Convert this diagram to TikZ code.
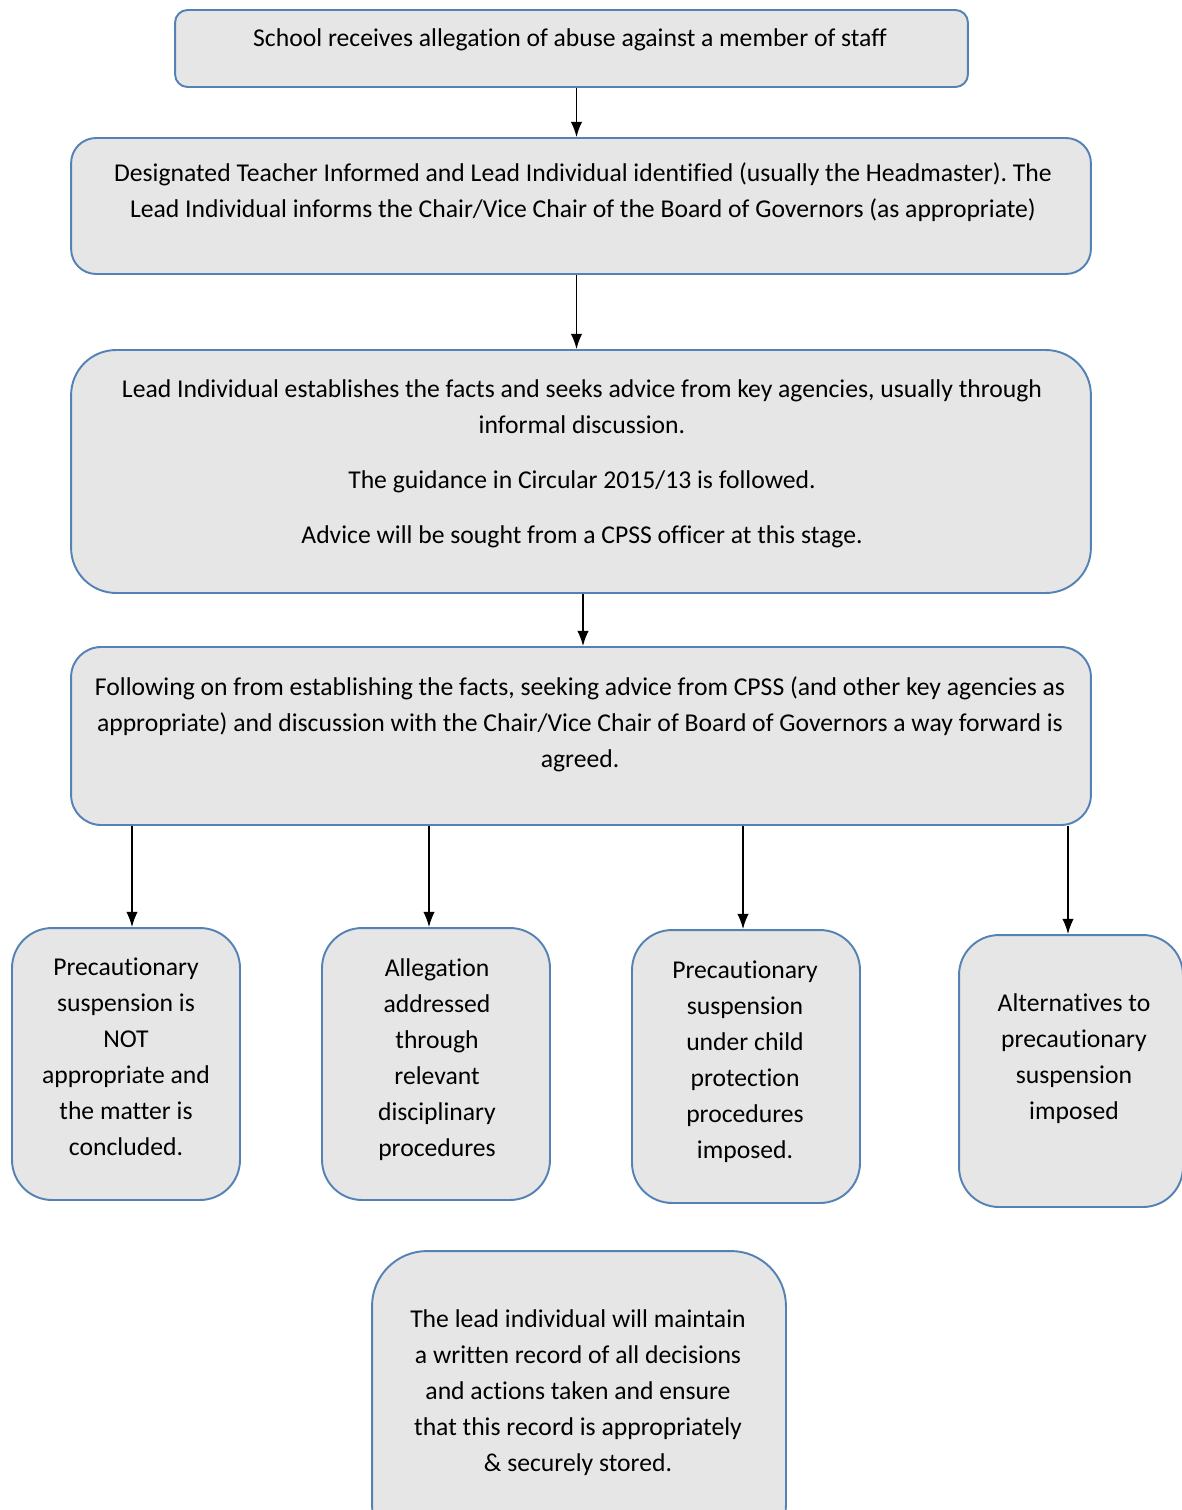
\documentclass[tikz,border=0pt]{standalone}
\usepackage{fontspec}
\setmainfont{Carlito}[Ligatures=NoCommon]
\frenchspacing
\usetikzlibrary{positioning,arrows.meta,calc}
\tikzset{>={Latex[scale=1.3]}}
\definecolor{boxblue}{RGB}{84,130,181}
\definecolor{boxgrey}{RGB}{230,230,230}

\begin{document}
\begin{tikzpicture}[x=0.02cm, y=-0.02cm,
    flowbox/.style={draw=boxblue, fill=boxgrey, line width=1.1pt, rounded corners=#1, inner sep=0pt},
    flowbox/.default=0.5cm,
    txt/.style={align=center, inner sep=0pt, font=\fontsize{14.6}{20.5}\selectfont},
    link/.style={->, line width=0.8pt}]
  \useasboundingbox (0,0) rectangle (1182,1510);
  \clip (0,0) rectangle (1182,1510);
  % boxes
  \node[flowbox=0.25cm, minimum width=15.86cm, minimum height=1.54cm] (b1) at (571.5,48.5) {};
  \node[flowbox=0.5cm, minimum width=20.4cm, minimum height=2.72cm] (b2) at (581,206) {};
  \node[flowbox=0.9cm, minimum width=20.4cm, minimum height=4.86cm] (b3) at (581,471.5) {};
  \node[flowbox=0.6cm, minimum width=20.4cm, minimum height=3.56cm] (b4) at (581,736) {};
  \node[flowbox=0.8cm, minimum width=4.56cm, minimum height=5.44cm] (ba) at (126,1064) {};
  \node[flowbox=0.8cm, minimum width=4.56cm, minimum height=5.44cm] (bb) at (436,1064) {};
  \node[flowbox=0.8cm, minimum width=4.56cm, minimum height=5.46cm] (bc) at (746,1066.5) {};
  \node[flowbox=0.8cm, minimum width=4.48cm, minimum height=5.44cm] (bd) at (1071,1071) {};
  \node[flowbox=1.1cm, minimum width=8.28cm, minimum height=6.18cm] (be) at (579,1405.5) {};
  % texts
  \node[txt] (t1) at (570,40) {School receives allegation of abuse against a member of staff};
  \node[txt] (t2) at (583,192.5) {Designated Teacher Informed and Lead Individual identified (usually the Headmaster). The\\
    Lead Individual informs the Chair/Vice Chair of the Board of Governors (as appropriate)};
  \node[txt] (t3) at (582,464) {Lead Individual establishes the facts and seeks advice from key agencies, usually through\\
    informal discussion.\\[0.38cm]
    The guidance in Circular 2015/13 is followed.\\[0.38cm]
    Advice will be sought from a CPSS officer at this stage.};
  \node[txt] (t4) at (580,724.5) {Following on from establishing the facts, seeking advice from CPSS (and other key agencies as\\
    appropriate) and discussion with the Chair/Vice Chair of Board of Governors a way forward is\\
    agreed.};
  \node[txt] (ta) at (126,1056.5) {Precautionary\\suspension is\\NOT\\appropriate and\\the matter is\\concluded.};
  \node[txt] (tb) at (437,1059.5) {Allegation\\addressed\\through\\relevant\\disciplinary\\procedures};
  \node[txt] (tc) at (745,1061.5) {Precautionary\\suspension\\under child\\protection\\procedures\\imposed.};
  \node[txt] (td) at (1074,1059) {Alternatives to\\precautionary\\suspension\\imposed};
  \node[txt] (te) at (578,1392.5) {The lead individual will maintain\\a written record of all decisions\\and actions taken and ensure\\that this record is appropriately\\\& securely stored.};
  % arrows
  \draw[link] ([xshift=0.1cm]b1.south) -- ([xshift=0.1cm]b1.south |- b2.north);
  \draw[link] ([xshift=0.1cm]b1.south |- b2.south) -- ([xshift=0.1cm]b1.south |- b3.north);
  \draw[link] ([xshift=0.04cm]b3.south) -- ([xshift=0.04cm]b4.north);
  \draw[link] ([xshift=0.12cm]b4.south -| ba.north) -- ([xshift=0.12cm]ba.north);
  \draw[link] ([xshift=-0.14cm]b4.south -| bb.north) -- ([xshift=-0.14cm]bb.north);
  \draw[link] ([xshift=-0.06cm]b4.south -| bc.north) -- ([xshift=-0.06cm]bc.north);
  \draw[link] ([xshift=-0.06cm]b4.south -| bd.north) -- ([xshift=-0.06cm]bd.north);
\end{tikzpicture}
\end{document}
